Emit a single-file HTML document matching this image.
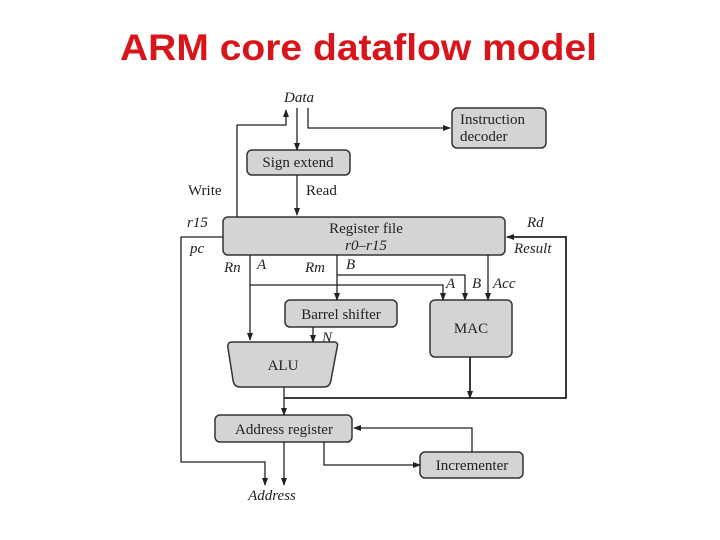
<!DOCTYPE html>
<html><head><meta charset="utf-8"><style>
html,body{margin:0;padding:0;background:#fff;}
svg{display:block}
</style></head><body>
<svg width="720" height="540" viewBox="0 0 720 540" xmlns="http://www.w3.org/2000/svg">
<defs>
<marker id="a" markerWidth="8" markerHeight="8" refX="7" refY="4" orient="auto" markerUnits="userSpaceOnUse">
<path d="M0,1 L8,4 L0,7 z" fill="#222"/></marker>
</defs>
<text x="120" y="60" textLength="477" lengthAdjust="spacingAndGlyphs" font-family="Liberation Sans, sans-serif" font-weight="bold" font-size="37" fill="#d9151b">ARM core dataflow model</text>
<g font-family="Liberation Serif, serif" font-size="15" fill="#222">
<g fill="#d4d4d4" stroke="#333" stroke-width="1.5">
<rect x="452" y="108" width="94" height="40" rx="5"/>
<rect x="247" y="150" width="103" height="25" rx="5"/>
<rect x="223" y="217" width="282" height="38" rx="5"/>
<rect x="285" y="300" width="112" height="27" rx="5"/>
<rect x="430" y="300" width="82" height="57" rx="5"/>
<path d="M232,342 L334,342 Q339,342 337,348 L331,380 Q330,387 324,387 L240,387 Q234,387 233,380 L228,348 Q227,342 232,342 Z"/>
<rect x="215" y="415" width="137" height="27" rx="5"/>
<rect x="420" y="452" width="103" height="26" rx="5"/>
</g>
<g stroke="#222" stroke-width="1.3" fill="none">
<path d="M237,217 V125 H286 V110" marker-end="url(#a)"/>
<path d="M297,108 V150" marker-end="url(#a)"/>
<path d="M308,108 V128 H450" marker-end="url(#a)"/>
<path d="M297,175 V215" marker-end="url(#a)"/>
<path d="M223,237 H181 V462 H265 V485" marker-end="url(#a)"/>
<path d="M284,442 V485" marker-end="url(#a)"/>
<path d="M250,255 V340" marker-end="url(#a)"/>
<path d="M250,285 H443 V300" marker-end="url(#a)"/>
<path d="M337,255 V300" marker-end="url(#a)"/>
<path d="M337,275 H465 V300" marker-end="url(#a)"/>
<path d="M488,255 V300" marker-end="url(#a)"/>
<path d="M313,327 V342" marker-end="url(#a)"/>
<path d="M284,387 V398"/>
<path d="M284,398 V415" marker-end="url(#a)"/>
<path d="M470,357 V398" marker-end="url(#a)" stroke-width="1.8"/>
<path d="M284,398 H566 V237 H507" marker-end="url(#a)" stroke-width="1.8"/>
<path d="M324,442 V465 H420" marker-end="url(#a)"/>
<path d="M472,452 V428 H354" marker-end="url(#a)"/>
</g>
<text x="299" y="102" text-anchor="middle" font-style="italic">Data</text>
<text x="460" y="124">Instruction</text>
<text x="460" y="141">decoder</text>
<text x="298" y="167" text-anchor="middle">Sign extend</text>
<text x="188" y="195">Write</text>
<text x="306" y="195">Read</text>
<text x="187" y="227" font-style="italic">r15</text>
<text x="190" y="253" font-style="italic">pc</text>
<text x="366" y="233" text-anchor="middle">Register file</text>
<text x="366" y="250" text-anchor="middle" font-style="italic">r0–r15</text>
<text x="527" y="227" font-style="italic">Rd</text>
<text x="514" y="253" font-style="italic">Result</text>
<text x="224" y="272" font-style="italic">Rn</text>
<text x="257" y="269" font-style="italic">A</text>
<text x="305" y="272" font-style="italic">Rm</text>
<text x="346" y="269" font-style="italic">B</text>
<text x="446" y="288" font-style="italic">A</text>
<text x="472" y="288" font-style="italic">B</text>
<text x="493" y="288" font-style="italic">Acc</text>
<text x="341" y="319" text-anchor="middle">Barrel shifter</text>
<text x="471" y="333" text-anchor="middle">MAC</text>
<text x="322" y="342" font-style="italic">N</text>
<text x="283" y="370" text-anchor="middle">ALU</text>
<text x="284" y="434" text-anchor="middle">Address register</text>
<text x="472" y="470" text-anchor="middle">Incrementer</text>
<text x="272" y="500" text-anchor="middle" font-style="italic">Address</text>
</g>
</svg>
</body></html>
